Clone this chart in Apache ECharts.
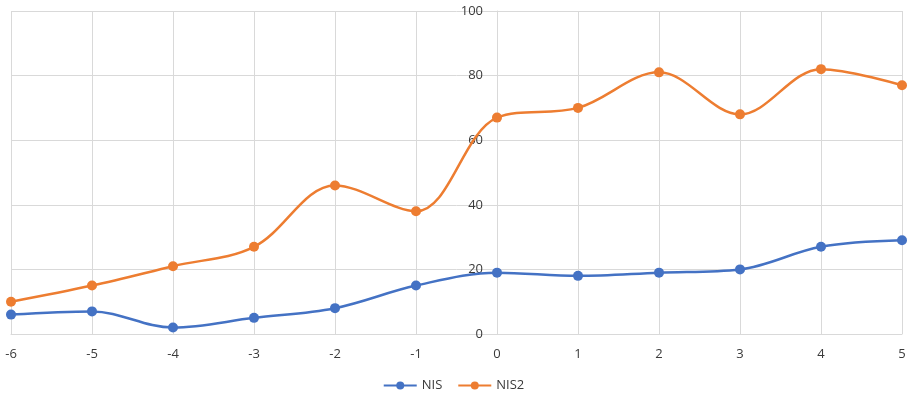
<!DOCTYPE html>
<html>
<head>
<meta charset="utf-8">
<script src="https://cdn.jsdelivr.net/npm/echarts@6/dist/echarts.min.js"></script>
<style>
  html, body { margin: 0; padding: 0; background: #fff; }
  #chart { width: 907px; height: 398px; }
</style>
</head>
<body>
<div id="chart"></div>
<script>
// x positions and values for the two series
const xValues = [-6, -5, -4, -3, -2, -1, 0, 1, 2, 3, 4, 5];
const nisValues = [6, 7, 2, 5, 8, 15, 19, 18, 19, 20, 27, 29];
const nis2Values = [10, 15, 21, 27, 46, 38, 67, 70, 81, 68, 82, 77];
const seriesNames = ['NIS', 'NIS2'];
const seriesColors = ['#4472C4', '#ED7D31'];

const font = '"Open Sans", "Noto Sans", sans-serif';
const textColor = '#3a3a3a';
const gridColor = '#d9d9d9';

const W = 907;
const gridLeft = 11, gridRight = 5;
const xMin = -6, xMax = 5;
// the value axis crosses the horizontal axis at x = 0
const yAxisShift = (W - gridLeft - gridRight) * (0 - xMin) / (xMax - xMin);

function pairs(ys) {
  return xValues.map((x, i) => [x, ys[i]]);
}

function lineSeries(name, ys, color) {
  return {
    name: name,
    type: 'line',
    data: pairs(ys),
    smooth: 0.35,
    symbol: 'circle',
    symbolSize: 10,
    lineStyle: { width: 2.5, color: color },
    itemStyle: { color: color },
    emphasis: { disabled: true }
  };
}

const chart = echarts.init(document.getElementById('chart'), null, { renderer: 'canvas' });
chart.setOption({
  animation: false,
  backgroundColor: '#ffffff',
  grid: { left: gridLeft, right: gridRight, top: 11, bottom: 64, containLabel: false, outerBoundsMode: 'none' },
  legend: {
    bottom: 1,
    left: 'center',
    itemWidth: 33,
    itemHeight: 10,
    itemGap: 15,
    textStyle: { fontFamily: font, fontSize: 13, color: textColor },
    data: seriesNames
  },
  xAxis: {
    type: 'value',
    min: xMin,
    max: xMax,
    interval: 1,
    axisLine: { show: true, onZero: false, lineStyle: { color: gridColor, width: 1 } },
    axisTick: { show: false },
    axisLabel: { fontFamily: font, fontSize: 13, color: textColor, margin: 14 },
    splitLine: { show: true, lineStyle: { color: gridColor, width: 1 } }
  },
  yAxis: {
    type: 'value',
    min: 0,
    max: 100,
    interval: 20,
    offset: -yAxisShift,
    axisLine: { show: true, onZero: false, lineStyle: { color: gridColor, width: 1 } },
    axisTick: { show: false },
    axisLabel: { fontFamily: font, fontSize: 13, color: textColor, margin: 14 },
    splitLine: { show: true, lineStyle: { color: gridColor, width: 1 } }
  },
  series: [
    lineSeries(seriesNames[0], nisValues, seriesColors[0]),
    lineSeries(seriesNames[1], nis2Values, seriesColors[1])
  ]
});
</script>
</body>
</html>
